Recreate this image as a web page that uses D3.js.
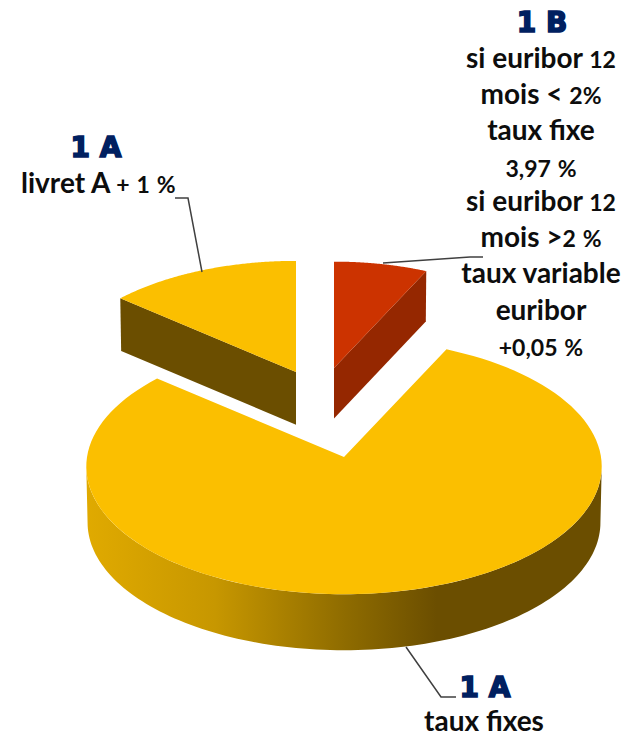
<!DOCTYPE html>
<html>
<head>
<meta charset="utf-8">
<script src="https://cdn.jsdelivr.net/npm/d3@7"></script>
<style>
  html, body { margin: 0; padding: 0; background: #fff; overflow: hidden; }
  text { font-family: Lato, "Open Sans", sans-serif; font-weight: 700; fill: #0d0d0d; }
  .head { font-family: "DejaVu Sans", sans-serif; font-weight: 700; fill: #002060; stroke: #002060; stroke-width: 1.6; }
</style>
</head>
<body>
<script>
const width = 638;
const height = 737;

// data, clockwise from 12 o'clock
const sliceNames = ['1 B', '1 A taux fixes', '1 A livret'];
const sliceValues = [7, 79.2, 13.8];
const sliceTop = ['#cc3300', '#fbbf00', '#fbbf00'];
const sliceWall = ['#952700', '#6b4e00', '#6b4e00'];

// where each exploded slice sits, same order as the data
const sliceX = [334, 344, 296];
const sliceY = [368, 457, 372];
const sliceScale = [0.9, 1, 0.94];

const headings = [
    { text: '1 B', x: 542, y: 32 },
    { text: '1 A', x: 96, y: 157 },
    { text: '1 A', x: 485, y: 697 }
];
const rightLines = [
    'si euribor 12', 'mois < 2%', 'taux fixe', '3,97 %', 'si euribor 12',
    'mois >2 %', 'taux variable', 'euribor', '+0,05 %'
];
const rightBaselines = [68, 104, 140, 177, 211, 247, 283, 320, 356];

const leaders = [
    [[175, 198], [188, 198], [202, 272]],
    [[383, 263], [470, 257], [483, 257]],
    [[406, 647], [441, 697], [456, 697]]
];

// perspective disc
const radiusX = 257;
const radiusY = 127;
const persp = 0.0745;
const depth = 56;

const svg = d3.select('body').append('svg')
    .attr('width', width)
    .attr('height', height);

const project = (i, a, r, drop) => {
    const u = r * Math.sin(a);
    const v = -r * Math.cos(a);
    const s = 1 / (1 - persp * v) * sliceScale[i];
    return [
        sliceX[i] + u * radiusX * s * (drop ? 0.995 : 1),
        sliceY[i] + v * radiusY * s + (drop ? depth * sliceScale[i] : 0)
    ];
};

const line = d3.line();
const arcs = d3.pie().sort(null)(sliceValues);

const arcPoints = (i, a0, a1, drop) =>
    d3.range(0, 121).map(k => project(i, a0 + (a1 - a0) * k / 120, 1, drop));

// gradient of the big slice's outer wall
const grad = svg.append('defs').append('linearGradient')
    .attr('id', 'wall')
    .attr('gradientUnits', 'userSpaceOnUse')
    .attr('x1', 86).attr('x2', 602).attr('y1', 0).attr('y2', 0);
[[0, '#e0aa00'], [0.25, '#c79700'], [0.5, '#8f6c00'], [0.68, '#6b4e00'], [1, '#6b4e00']]
    .forEach(d => grad.append('stop').attr('offset', d[0]).attr('stop-color', d[1]));

const walls = svg.append('g');
const tops = svg.append('g');

arcs.forEach((d, i) => {
    if (i === 1) {
        // outer wall, right side round the front to the left side
        const a0 = Math.PI / 2 + persp;
        const a1 = Math.PI * 1.5 - persp;
        const pts = arcPoints(i, a0, a1, false).concat(arcPoints(i, a0, a1, true).reverse());
        walls.append('path').attr('d', line(pts) + 'Z').attr('fill', 'url(#wall)');
    } else {
        // flat cut face between centre and rim
        const a = i === 0 ? d.endAngle : d.startAngle;
        const rim = project(i, a, 1, false);
        const rimLow = project(i, a, 1, true);
        const centre = [sliceX[i], sliceY[i]];
        const centreLow = [sliceX[i], sliceY[i] + depth * sliceScale[i]];
        walls.append('path')
            .attr('d', line([centre, rim, rimLow, centreLow]) + 'Z')
            .attr('fill', sliceWall[i]);
    }
    const face = [[sliceX[i], sliceY[i]]].concat(arcPoints(i, d.startAngle, d.endAngle, false));
    tops.append('path')
        .attr('d', line(face) + 'Z')
        .attr('fill', sliceTop[i]);
});

// leader lines
svg.append('g').selectAll('path')
    .data(leaders)
    .join('path')
    .attr('d', d => line(d))
    .attr('fill', 'none')
    .attr('stroke', '#404040')
    .attr('stroke-width', 1.5);

svg.append('g').selectAll('text')
    .data(headings)
    .join('text')
    .attr('class', 'head')
    .attr('x', d => d.x)
    .attr('y', d => d.y)
    .attr('text-anchor', 'middle')
    .style('font-size', '28px')
    .text(d => d.text);

// digits, + and % are small old style figures in the source font
const addLabel = (str, x, y, anchor) => {
    const t = svg.append('text')
        .attr('x', x)
        .attr('y', y)
        .attr('text-anchor', anchor)
        .style('font-size', '28px');
    str.split(/([\d,%+]+)/).forEach((part, k) => {
        if (part === '') return;
        t.append('tspan')
            .style('font-size', k % 2 ? '23px' : '28px')
            .text(part);
    });
};

rightLines.forEach((str, i) => addLabel(str, 541, rightBaselines[i], 'middle'));
addLabel('livret A + 1 %', 21, 193, 'start');
addLabel('taux fixes', 484, 731, 'middle');
</script>
</body>
</html>
